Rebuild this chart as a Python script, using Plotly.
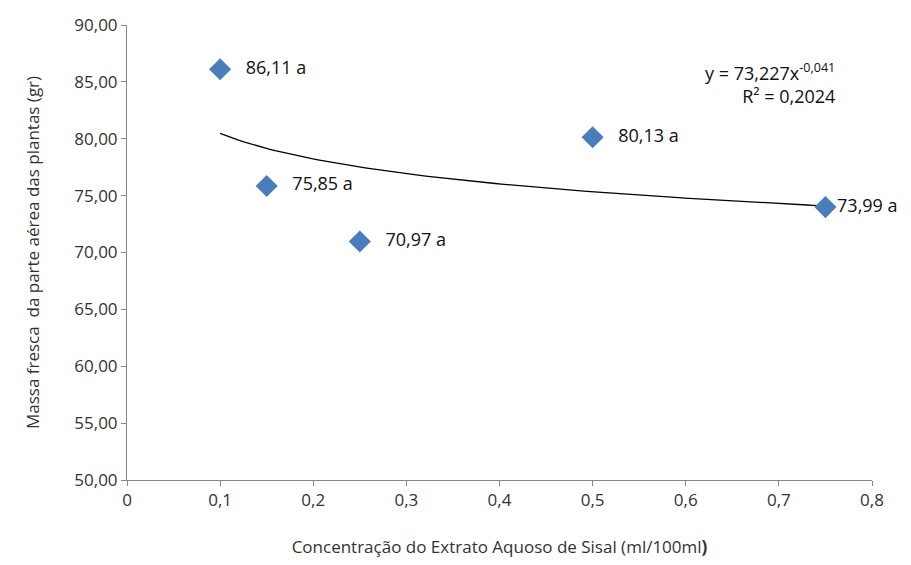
import numpy as np
import plotly.graph_objects as go

conc = [0.1, 0.15, 0.25, 0.5, 0.75]
massa = [86.11, 75.85, 70.97, 80.13, 73.99]
labels = ["86,11 a", "75,85 a", "70,97 a", "80,13 a", "73,99 a"]
label_pad = ["   ", "   ", "   ", "   ", ""]
coef_a, coef_b = 73.227, -0.041
x_ticks = [0, 0.1, 0.2, 0.3, 0.4, 0.5, 0.6, 0.7, 0.8]
x_tick_text = ["0", "0,1", "0,2", "0,3", "0,4", "0,5", "0,6", "0,7", "0,8"]
y_ticks = [50, 55, 60, 65, 70, 75, 80, 85, 90]
y_tick_text = ["50,00", "55,00", "60,00", "65,00", "70,00", "75,00", "80,00", "85,00", "90,00"]

xt = np.linspace(min(conc), max(conc), 100)
yt = coef_a * xt ** coef_b

fig = go.Figure()
fig.add_trace(go.Scatter(x=xt, y=yt, mode="lines", line=dict(color="black", width=1.3), hoverinfo="skip"))
fig.add_trace(go.Scatter(x=conc, y=massa, mode="markers+text",
                         text=[p + l for p, l in zip(label_pad, labels)], textposition="middle right",
                         textfont=dict(size=18, color="#111"), cliponaxis=False,
                         marker=dict(symbol="diamond", size=17, color="#4a7ebb")))
fig.add_annotation(x=0.69, y=84.9, xref="x", yref="y", xanchor="center", showarrow=False, align="right",
                   text="y = 73,227x<sup>-0,041</sup><br>R² = 0,2024", font=dict(size=18, color="#111"))
fig.update_layout(
    width=911, height=565, showlegend=False, plot_bgcolor="white", paper_bgcolor="white",
    margin=dict(l=119, r=47, t=17, b=93),
    font=dict(family="Open Sans, Liberation Sans, sans-serif", size=17, color="#333"),
    xaxis=dict(range=[0, 0.8], tickvals=x_ticks, ticktext=x_tick_text, showgrid=False, zeroline=False,
               automargin=False, showline=True, linecolor="#888", ticks="outside", tickcolor="#888", ticklen=5,
               title=dict(text="Concentração do Extrato Aquoso de Sisal (ml/100ml<b>)</b>", font=dict(size=17), standoff=30)),
    yaxis=dict(range=[50, 90], tickvals=y_ticks, ticktext=y_tick_text, showgrid=False, zeroline=False,
               automargin=False, showline=True, linecolor="#888", ticks="outside", tickcolor="#888", ticklen=5,
               title=dict(text="Massa fresca  da parte aérea das plantas (gr)", font=dict(size=17), standoff=30)),
)
fig.write_html("out.html")
